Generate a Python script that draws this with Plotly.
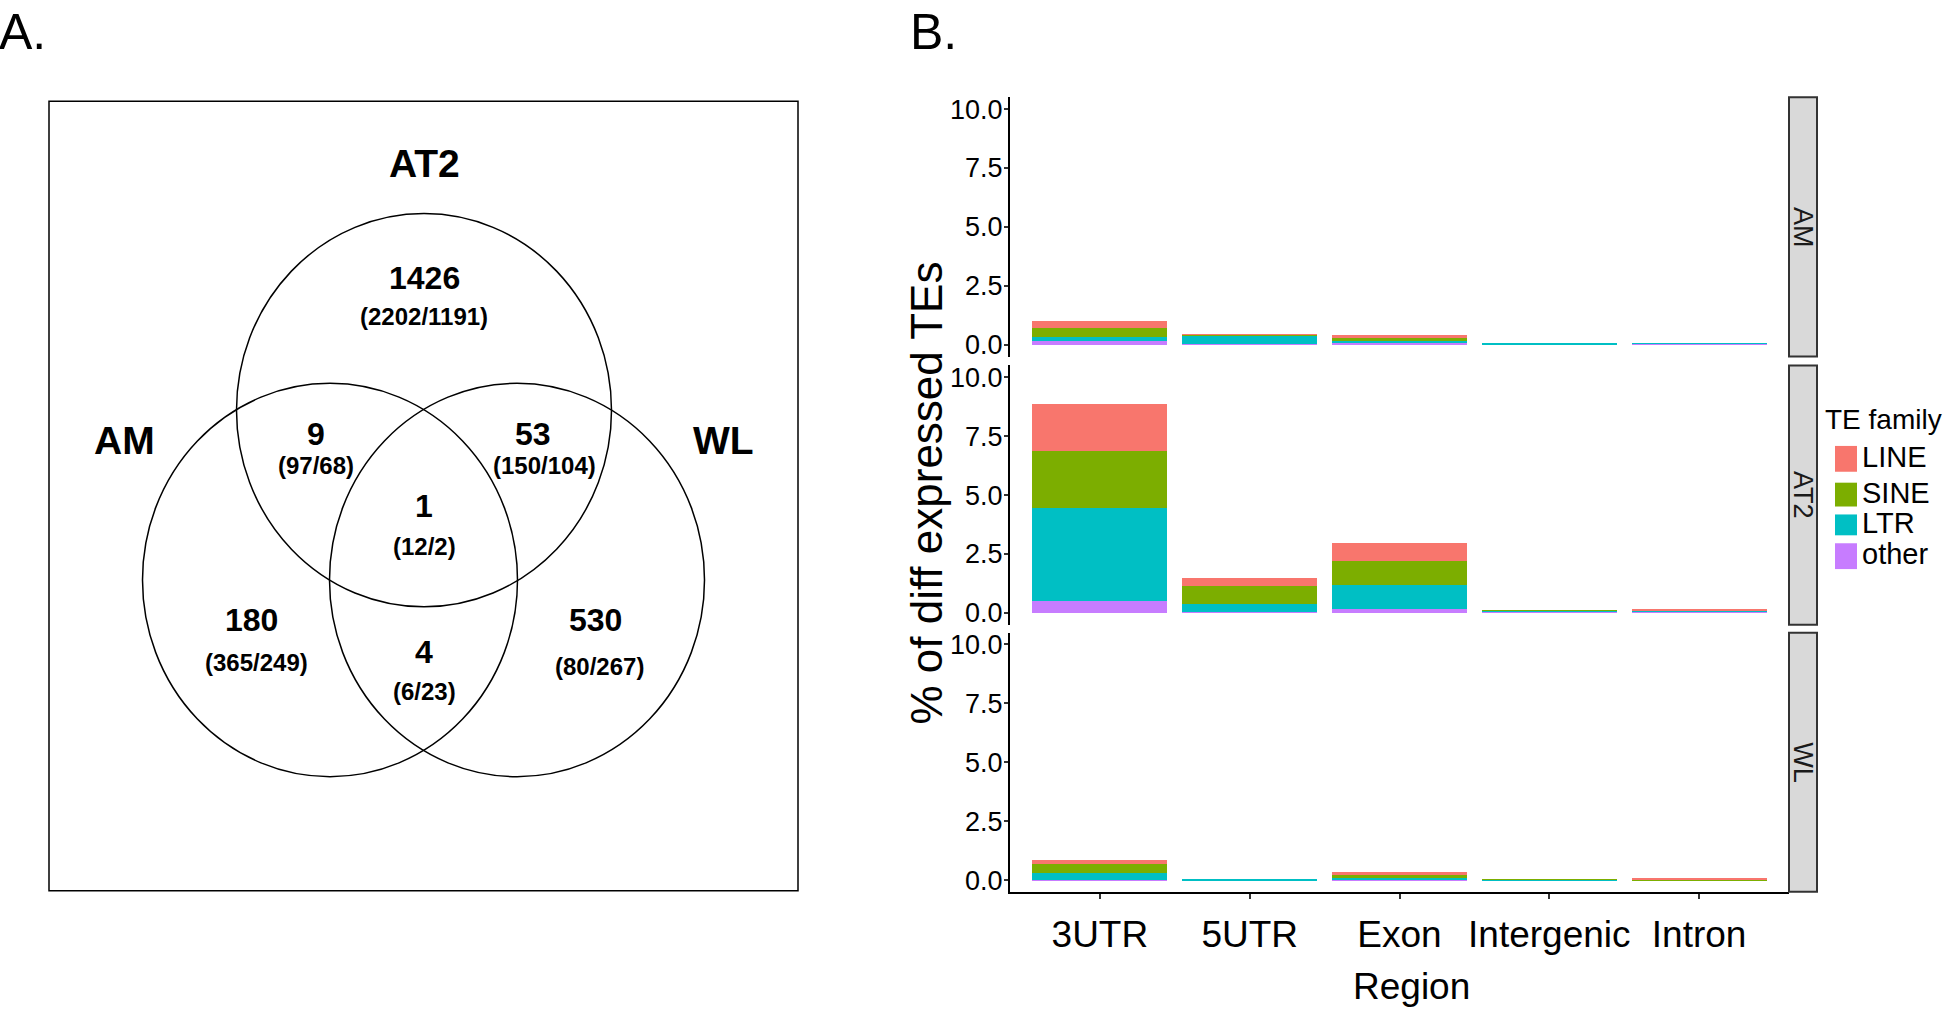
import plotly.graph_objects as go

W, H = 1946, 1017

# ---------------- data ----------------
regions = ["3UTR", "5UTR", "Exon", "Intergenic", "Intron"]
families = ["LINE", "SINE", "LTR", "other"]
family_colors = ["#F8766D", "#7CAE00", "#00BFC4", "#C77CFF"]
cell_types = ["AM", "AT2", "WL"]

# % of diff expressed TEs per region (stacked by TE family)
am_LINE = [0.32, 0.01, 0.10, 0.00, 0.00]
am_SINE = [0.35, 0.03, 0.14, 0.00, 0.00]
am_LTR = [0.21, 0.36, 0.10, 0.03, 0.03]
am_other = [0.14, 0.02, 0.06, 0.01, 0.02]

at2_LINE = [2.02, 0.35, 0.75, 0.00, 0.04]
at2_SINE = [2.40, 0.78, 1.01, 0.005, 0.03]
at2_LTR = [3.96, 0.34, 1.03, 0.02, 0.04]
at2_other = [0.49, 0.03, 0.17, 0.05, 0.03]

wl_LINE = [0.17, 0.00, 0.06, 0.00, 0.02]
wl_SINE = [0.35, 0.00, 0.18, 0.01, 0.04]
wl_LTR = [0.30, 0.05, 0.07, 0.02, 0.01]
wl_other = [0.02, 0.00, 0.02, 0.01, 0.00]

y_ticks = [0, 2.5, 5, 7.5, 10]
y_ticktext = ["0.0", "2.5", "5.0", "7.5", "10.0"]

# Venn diagram
venn_sets = ["AT2", "AM", "WL"]
venn_counts = [1426, 9, 53, 1, 180, 4, 530]
venn_up = [2202, 97, 150, 12, 365, 6, 80]
venn_down = [1191, 68, 104, 2, 249, 23, 267]

# ---------------- helpers ----------------
def px(x):
    return x / W

def py(y):
    return 1 - y / H

SANS = "Liberation Sans, Arial, sans-serif"

fig = go.Figure()

data = {
    "AM": [am_LINE, am_SINE, am_LTR, am_other],
    "AT2": [at2_LINE, at2_SINE, at2_LTR, at2_other],
    "WL": [wl_LINE, wl_SINE, wl_LTR, wl_other],
}

# panel pixel extents (top, bottom)
panels = {"AM": (95, 356), "AT2": (365, 626), "WL": (634, 895)}
x_left, x_right = 1010, 1789

for i, ct in enumerate(cell_types):
    suffix = "" if i == 0 else str(i + 1)
    # stack order bottom->top: other, LTR, SINE, LINE
    for k in [3, 2, 1, 0]:
        fig.add_trace(go.Bar(
            x=regions, y=data[ct][k], name=families[k],
            marker=dict(color=family_colors[k], line=dict(width=0)),
            xaxis="x" + suffix, yaxis="y" + suffix,
            showlegend=False, width=0.9,
        ))

layout_axes = {}
for i, ct in enumerate(cell_types):
    suffix = "" if i == 0 else str(i + 1)
    top, bot = panels[ct]
    bottom = (i == 2)
    layout_axes["xaxis" + suffix] = dict(
        domain=[px(x_left), px(x_right)], anchor="y" + suffix,
        type="category", categoryorder="array", categoryarray=regions,
        range=[-0.6, 4.6], showgrid=False, zeroline=False,
        showline=bottom, linecolor="black", linewidth=2,
        ticks="outside" if bottom else "", ticklen=5, tickwidth=1.5, tickcolor="#333",
        showticklabels=bottom, tickangle=0, ticklabelstandoff=4,
        tickfont=dict(family=SANS, size=37, color="black"),
        fixedrange=True,
    )
    layout_axes["yaxis" + suffix] = dict(
        domain=[py(bot), py(top)], anchor="x" + suffix,
        range=[-0.5, 10.5], showgrid=False, zeroline=False,
        showline=True, linecolor="black", linewidth=2,
        ticks="outside", ticklen=4, tickwidth=1.5, tickcolor="#333",
        tickvals=y_ticks, ticktext=y_ticktext, ticklabelstandoff=-4,
        tickfont=dict(family=SANS, size=27, color="black"),
        fixedrange=True,
    )

shapes = []
annotations = []

# facet strips
for ct in cell_types:
    top, bot = panels[ct]
    shapes.append(dict(type="rect", xref="paper", yref="paper",
                       x0=px(1789), x1=px(1817), y0=py(bot), y1=py(top),
                       fillcolor="#D9D9D9", line=dict(color="#333333", width=2)))
    annotations.append(dict(text=ct, xref="paper", yref="paper",
                            x=px(1803), y=py((top + bot) / 2), showarrow=False,
                            textangle=90, font=dict(family=SANS, size=27, color="#1a1a1a"),
                            xanchor="center", yanchor="middle"))

# y-axis title and x-axis title
annotations.append(dict(text="% of diff expressed TEs", xref="paper", yref="paper",
                        x=px(927), y=py(494), showarrow=False, textangle=-90,
                        font=dict(family=SANS, size=44, color="black"),
                        xanchor="center", yanchor="middle"))
annotations.append(dict(text="Region", xref="paper", yref="paper",
                        x=px(1411), y=py(990), showarrow=False,
                        font=dict(family=SANS, size=37, color="black"),
                        xanchor="center", yanchor="middle"))

# manual legend
annotations.append(dict(text="TE family", xref="paper", yref="paper",
                        x=px(1823), y=py(419), showarrow=False,
                        font=dict(family=SANS, size=28, color="black"),
                        xanchor="left", yanchor="middle"))
sw_y = [(446, 472), (483, 507), (515, 536), (544, 570)]
for k, fam in enumerate(families):
    y0, y1 = sw_y[k]
    shapes.append(dict(type="rect", xref="paper", yref="paper",
                       x0=px(1835), x1=px(1857), y0=py(y1), y1=py(y0),
                       fillcolor=family_colors[k], line=dict(width=0)))
    annotations.append(dict(text=fam, xref="paper", yref="paper",
                            x=px(1860), y=py((y0 + y1) / 2 - 2), showarrow=False,
                            font=dict(family=SANS, size=29, color="black"),
                            xanchor="left", yanchor="middle"))

# panel letters
annotations.append(dict(text="A.", xref="paper", yref="paper", x=px(-2), y=1.0,
                        showarrow=False, font=dict(family=SANS, size=50, color="black"),
                        xanchor="left", yanchor="top", borderpad=0))
annotations.append(dict(text="B.", xref="paper", yref="paper", x=px(909), y=1.0,
                        showarrow=False, font=dict(family=SANS, size=50, color="black"),
                        xanchor="left", yanchor="top", borderpad=0))

# ---------------- Venn diagram ----------------
shapes.append(dict(type="rect", xref="paper", yref="paper",
                   x0=px(49), x1=px(798), y0=py(894), y1=py(99),
                   fillcolor="rgba(0,0,0,0)", line=dict(color="black", width=1.5)))
circle_geom = {"AT2": (424, 410), "AM": (330, 581), "WL": (517, 581)}
rx, ry = 187.5, 198
for s in venn_sets:
    cx, cy = circle_geom[s]
    shapes.append(dict(type="circle", xref="paper", yref="paper",
                       x0=px(cx - rx), x1=px(cx + rx), y0=py(cy + ry), y1=py(cy - ry),
                       fillcolor="rgba(0,0,0,0)", line=dict(color="black", width=1.5)))

set_label_pos = {"AT2": (424, 162), "AM": (124, 441), "WL": (723, 441)}
for s in venn_sets:
    x, y = set_label_pos[s]
    annotations.append(dict(text=f"<b>{s}</b>", xref="paper", yref="paper",
                            x=px(x), y=py(y), showarrow=False,
                            font=dict(family=SANS, size=39, color="black"),
                            xanchor="center", yanchor="middle"))

count_pos = [(424, 277), (316, 434), (533, 434), (424, 506), (251, 621), (424, 653), (595, 621)]
sub_pos = [(424, 316), (316, 466), (544, 466), (424, 547), (256, 664), (424, 693), (599, 668)]
for j, c in enumerate(venn_counts):
    x, y = count_pos[j]
    annotations.append(dict(text=f"<b>{c}</b>", xref="paper", yref="paper",
                            x=px(x), y=py(y), showarrow=False,
                            font=dict(family=SANS, size=32, color="black"),
                            xanchor="center", yanchor="middle"))
    x, y = sub_pos[j]
    annotations.append(dict(text=f"<b>({venn_up[j]}/{venn_down[j]})</b>", xref="paper", yref="paper",
                            x=px(x), y=py(y), showarrow=False,
                            font=dict(family=SANS, size=24, color="black"),
                            xanchor="center", yanchor="middle"))

fig.update_layout(
    width=W, height=H,
    margin=dict(l=0, r=0, t=0, b=0),
    paper_bgcolor="white", plot_bgcolor="white",
    barmode="stack", bargap=0.1,
    showlegend=False,
    shapes=shapes, annotations=annotations,
    **layout_axes,
)

fig.write_html(
    "out.html",
    config={"displayModeBar": False, "responsive": False},
    post_script=(
        "document.body.style.margin='0px';"
        "document.body.style.overflow='hidden';"
        "document.documentElement.style.overflow='hidden';"
    ),
)
